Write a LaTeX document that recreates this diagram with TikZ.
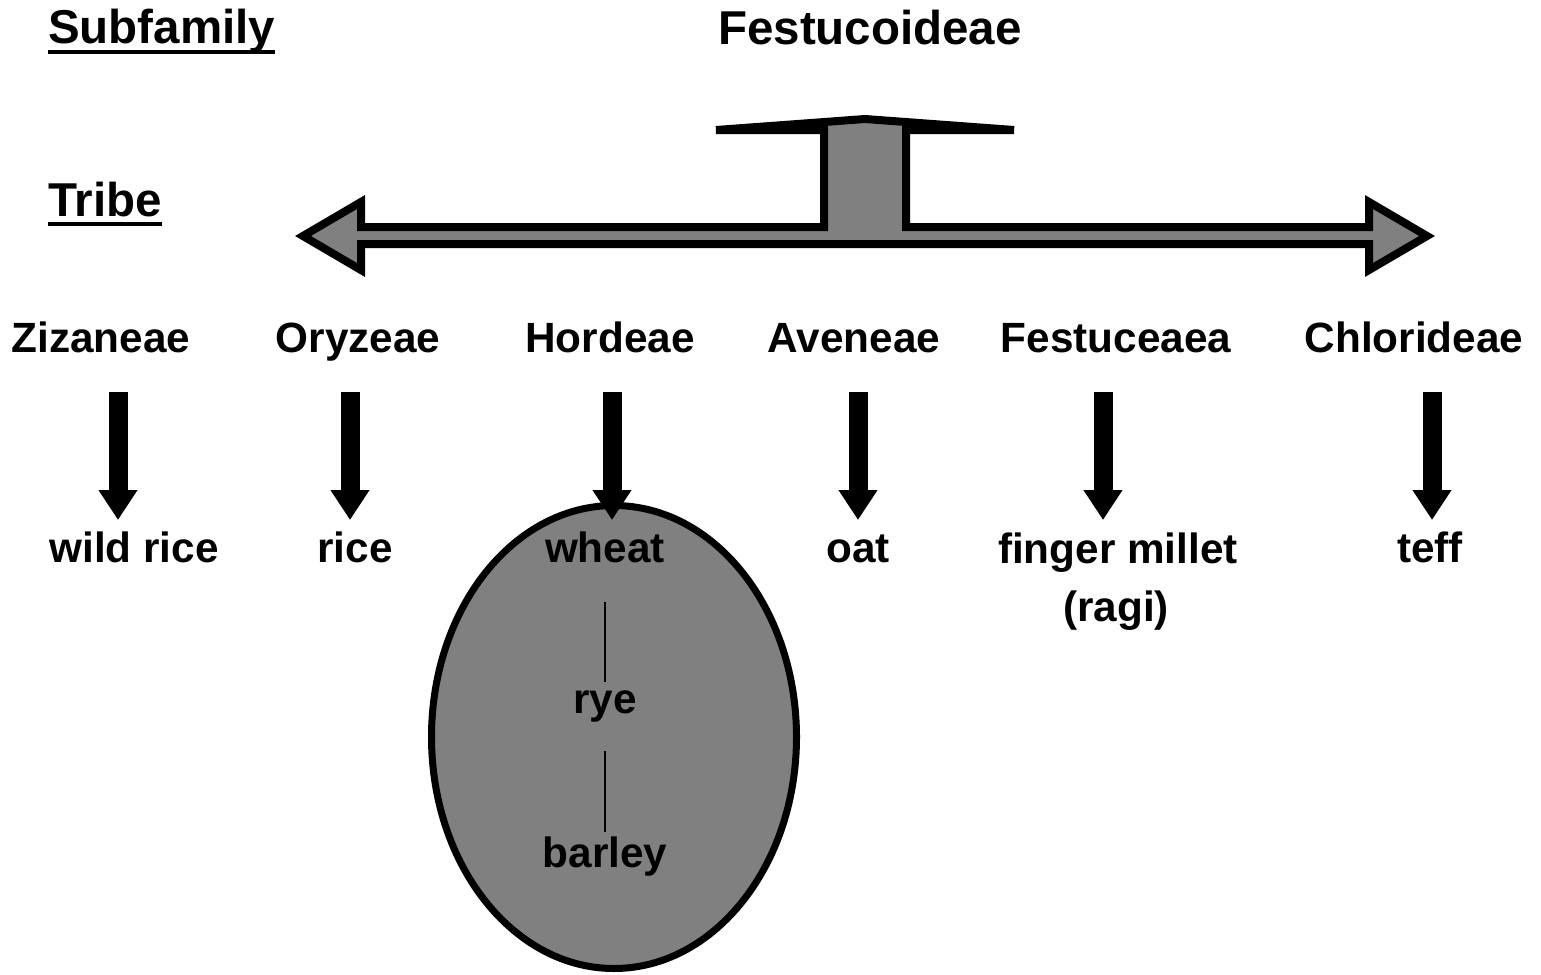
\documentclass[tikz,border=0pt]{standalone}
\usepackage{fontspec}
\setmainfont{Liberation Sans}
\usetikzlibrary{arrows.meta,shapes.geometric}

\definecolor{fillgray}{HTML}{808080}

\tikzset{
    heading/.style={font=\fontsize{47.5}{56}\selectfont\bfseries, inner sep=0pt},
    tribe/.style={font=\fontsize{42.3}{50}\selectfont\bfseries, inner sep=0pt, anchor=base},
    crop/.style={font=\fontsize{42.3}{50}\selectfont\bfseries, inner sep=0pt, anchor=base},
    tribearrow/.style={line width=19pt, -{Triangle[length=30pt, width=37pt]}},
    stem/.style={line width=1.5pt},
    underbar/.style={line width=4pt}
}

\begin{document}
\begin{tikzpicture}[x=1pt, y=-1pt]
    \useasboundingbox (0,0) rectangle (1541,974);

    % Headings
    \node[heading, anchor=base west] (subfam) at (48,44) {Subfamily};
    \node[heading, anchor=base] (festu) at (870,45) {Festucoideae};
    \node[heading, anchor=base west] (tribelbl) at (48,216) {Tribe};
    \draw[underbar] ([yshift=-8pt]subfam.base west) -- ([yshift=-8pt]subfam.base east);
    \draw[underbar] ([yshift=-8pt]tribelbl.base west) -- ([yshift=-8pt]tribelbl.base east);

    % Split arrow below the subfamily
    \draw[line width=8pt, line join=miter, fill=fillgray]
        (303,236) -- (361,202) -- (361,227) -- (824,227) -- (824,130)
        -- (716,130) -- (865,119) -- (1014,130) -- (906,130) -- (906,227)
        -- (1369,227) -- (1369,202) -- (1427,236) -- (1369,270) -- (1369,244)
        -- (361,244) -- (361,270) -- cycle;

    % Hordeae group
    \node[ellipse, draw, line width=7pt, fill=fillgray,
          minimum width=365pt, minimum height=463pt, inner sep=0pt]
        (hordgroup) at (614,737) {};

    % Tribes
    \node[tribe] (ziz) at (101,352) {Zizaneae};
    \node[tribe] (ory) at (358,352) {Oryzeae};
    \node[tribe] (hor) at (610,352) {Hordeae};
    \node[tribe] (ave) at (854,352) {Aveneae};
    \node[tribe] (fes) at (1116,352) {Festuceaea};
    \node[tribe] (chl) at (1414,352) {Chlorideae};

    % Crops
    \node[crop] (wildrice) at (134,562) {wild rice};
    \node[crop] (rice) at (355,562) {rice};
    \node[crop] (wheat) at (605,562) {wheat};
    \node[crop] (rye) at (605,713) {rye};
    \node[crop] (barley) at (605,867) {barley};
    \node[crop] (oat) at (858,562) {oat};
    \node[crop] (millet) at (1118,563) {finger millet};
    \node[crop] (ragi) at (1116,621) {(ragi)};
    \node[crop] (teff) at (1430,562) {teff};

    \draw[stem] ([yshift=-40pt]wheat.base) -- ([yshift=31pt]rye.base);
    \draw[stem] ([yshift=-38pt]rye.base) -- ([yshift=35pt]barley.base);

    % Tribe to crop arrows
    \foreach \n/\x in {ziz/118, ory/350, hor/612, ave/858, fes/1103, chl/1432} {
        \coordinate (\n top) at (\x,392);
        \coordinate (\n tip) at (\x,520);
        \draw[tribearrow] (\n top) -- (\n tip);
    }
\end{tikzpicture}
\end{document}
